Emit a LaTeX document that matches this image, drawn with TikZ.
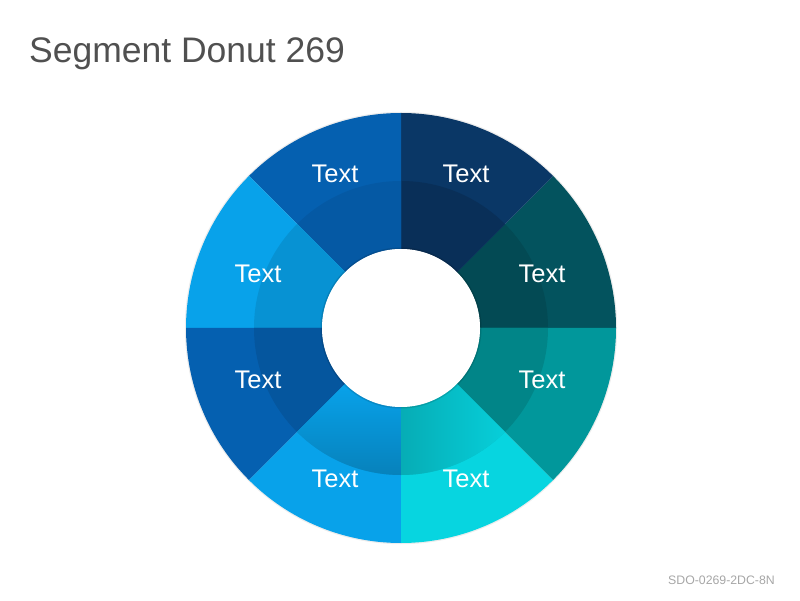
\documentclass[tikz,border=0pt]{standalone}
\usepackage{fontspec}
\setmainfont{Liberation Sans}
\usetikzlibrary{calc}
\definecolor{segteal}{HTML}{03535E}
\definecolor{segnavy}{HTML}{0A3766}
\definecolor{segblue}{HTML}{0560B0}
\definecolor{seglight}{HTML}{08A2EA}
\definecolor{segcyan}{HTML}{07D5E0}
\definecolor{segaqua}{HTML}{01979B}
\definecolor{titlegray}{HTML}{505050}
\definecolor{footgray}{HTML}{A6A6A6}
\newcommand{\ringpart}[3]{% start angle, outer radius, inner radius
  ($(o)+(#1:#2)$) arc[start angle=#1,delta angle=45,radius=#2]
    -- ($(o)+(#1+45:#3)$) arc[start angle=#1+45,delta angle=-45,radius=#3] -- cycle}
\begin{document}
\begin{tikzpicture}[x=1pt,y=1pt,
  seglabel/.style={text=white,inner sep=0,font=\fontsize{25.5}{30}\selectfont}]
\useasboundingbox (0,0) rectangle (800,600);
\coordinate (o) at (401,272);
% soft edge round the donut
\fill[black,opacity=0.07] (o) circle (216.2);
\foreach \a/\c/\k in {0/segteal/89,45/segnavy/86,90/segblue/93,135/seglight/90,
                      180/segblue/90,225/seglight/90,270/segcyan/90,315/segaqua/88}{
  \fill[\c] \ringpart{\a}{215}{79};
  \fill[\c!\k!black] \ringpart{\a}{147}{79};
}
% the two lower inner parts run from light to dark
\shade[top color=seglight,bottom color=seglight!80!black] \ringpart{225}{147}{79};
\shade[left color=segcyan!81!black,right color=segcyan!97!black] \ringpart{270}{147}{79};
% hole
\fill[black,opacity=0.12] (o) circle (80.5);
\fill[white] (o) circle (79);
\node[seglabel] (t1) at (542,326) {Text};
\node[seglabel] (t2) at (466,426) {Text};
\node[seglabel] (t3) at (335,426) {Text};
\node[seglabel] (t4) at (258,326) {Text};
\node[seglabel] (t5) at (258,220) {Text};
\node[seglabel] (t6) at (335,121) {Text};
\node[seglabel] (t7) at (466,121) {Text};
\node[seglabel] (t8) at (542,220) {Text};
\node[anchor=base west,inner sep=0,text=titlegray,font=\fontsize{35.5}{42}\selectfont] (title) at (29,537) {Segment Donut 269};
\node[anchor=base east,inner sep=0,text=footgray,font=\fontsize{12.3}{15}\selectfont] (code) at (775,16) {SDO-0269-2DC-8N};
\end{tikzpicture}
\end{document}
